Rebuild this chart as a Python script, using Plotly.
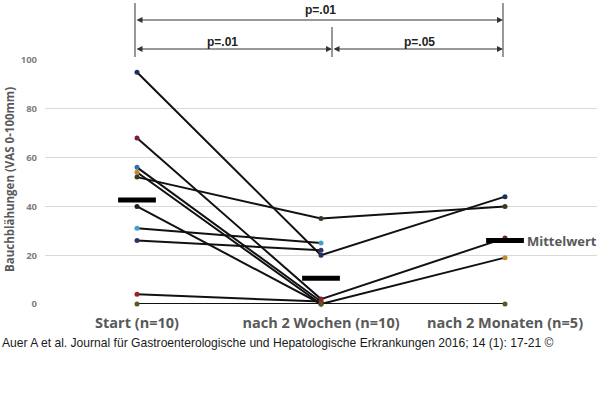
import numpy as np
import plotly.graph_objects as go

categories = ["Start (n=10)", "nach 2 Wochen (n=10)", "nach 2 Monaten (n=5)"]

# one row per patient: Start, 2 Wochen, 2 Monate (None = not measured)
p01 = [95, 20, 44]
p02 = [68, 2, 27]
p03 = [56, 1, None]
p04 = [54, 0, 19]
p05 = [52, 35, 40]
p06 = [40, 0, None]
p07 = [31, 25, None]
p08 = [26, 22, None]
p09 = [4, 1, None]
p10 = [0, 0, 0]
patients = [p01, p02, p03, p04, p05, p06, p07, p08, p09, p10]

marker_colors = ["#1f2f5f", "#7a2030", "#3070b0", "#c08a30", "#3a3a20",
                 "#202020", "#40a0d0", "#3a2d70", "#a02020", "#5a5a20"]

y_ticks = [0, 20, 40, 60, 80, 100]
p_labels = ["p=.01", "p=.01", "p=.05"]
mean_label = "Mittelwert"
source = "Auer A et al. Journal für Gastroenterologische und Hepatologische Erkrankungen 2016; 14 (1): 17-21 ©"

means = []
for i in range(len(categories)):
    vals = [p[i] for p in patients if p[i] is not None]
    means.append(float(np.mean(vals)))

fig = go.Figure()

for p, c in zip(patients, marker_colors):
    xs = [categories[i] for i in range(3) if p[i] is not None]
    ys = [v for v in p if v is not None]
    fig.add_trace(go.Scatter(
        x=xs, y=ys, mode="lines+markers",
        line=dict(color="#111111", width=2),
        marker=dict(color=c, size=5, line=dict(width=0)),
        cliponaxis=False, showlegend=False, hoverinfo="skip"))

fig.add_trace(go.Scatter(
    x=categories, y=means, mode="markers",
    marker=dict(symbol="line-ew", size=27, line=dict(color="#000000", width=5)),
    cliponaxis=False, showlegend=False, hoverinfo="skip"))

L, R, T, B = 45, 3, 60, 92
W, H = 600, 396
pw, ph = W - L - R, H - T - B

def px(x):
    return (x - L) / pw

def py(y):
    return (H - B - y) / ph

shapes = []
line_col = "#333333"
for xx, y0, y1 in [(135, 3, 57), (503, 3, 57), (332, 27, 57)]:
    shapes.append(dict(type="line", xref="paper", yref="paper",
                       x0=px(xx), x1=px(xx), y0=py(y1), y1=py(y0),
                       line=dict(color=line_col, width=1)))

annotations = []
for x0, x1, yy in [(135, 503, 20), (135, 332, 49), (332, 503, 49)]:
    annotations.append(dict(xref="paper", yref="paper", x=px(x1), y=py(yy),
                            ax=-(x1 - x0), ay=0, axref="pixel", ayref="pixel",
                            showarrow=True, arrowhead=2, arrowsize=1.2, arrowwidth=1,
                            arrowside="end+start", arrowcolor=line_col, text=""))
for lab, xx, yy in zip(p_labels, [320, 222, 419], [10, 42, 42]):
    annotations.append(dict(xref="paper", yref="paper", x=px(xx), y=py(yy),
                            text="<b>%s</b>" % lab, showarrow=False,
                            font=dict(family="Liberation Sans", size=12, color="#222222"),
                            xanchor="center", yanchor="middle"))

annotations.append(dict(xref="paper", yref="paper", x=px(525), y=py(241),
                        text="<b>%s</b>" % mean_label, showarrow=False,
                        font=dict(family="Open Sans", size=13, color="#595959"),
                        xanchor="left", yanchor="middle"))
annotations.append(dict(xref="paper", yref="paper", x=px(9), y=py(180),
                        text="<b>Bauchblähungen (VAS 0-100mm)</b>", showarrow=False,
                        textangle=-90,
                        font=dict(family="Open Sans", size=11.5, color="#595959"),
                        xanchor="center", yanchor="middle"))
annotations.append(dict(xref="paper", yref="paper", x=px(0), y=py(343),
                        text=source, showarrow=False,
                        font=dict(family="Liberation Sans", size=12.1, color="#1a1a1a"),
                        xanchor="left", yanchor="middle"))

fig.update_layout(
    width=W, height=H,
    margin=dict(l=L, r=R, t=T, b=B),
    paper_bgcolor="white", plot_bgcolor="white",
    shapes=shapes, annotations=annotations,
    xaxis=dict(type="category", categoryarray=categories, range=[-0.5, 2.5],
               showgrid=False, showline=False, zeroline=False, ticks="",
               tickfont=dict(family="Open Sans", size=14.5, color="#595959", weight="bold"),
               ticklabelstandoff=8),
    yaxis=dict(range=[0, 100], tickvals=y_ticks, showgrid=True, gridcolor="#d9d9d9",
               gridwidth=1, zeroline=False, showline=False, ticks="",
               tickfont=dict(family="Open Sans", size=9.5, color="#7f7f7f", weight="bold"),
               ticklabelstandoff=7),
)

fig.write_html("out.html", config={"displayModeBar": False},
               post_script="document.body.style.margin='0';document.body.style.padding='0';")
